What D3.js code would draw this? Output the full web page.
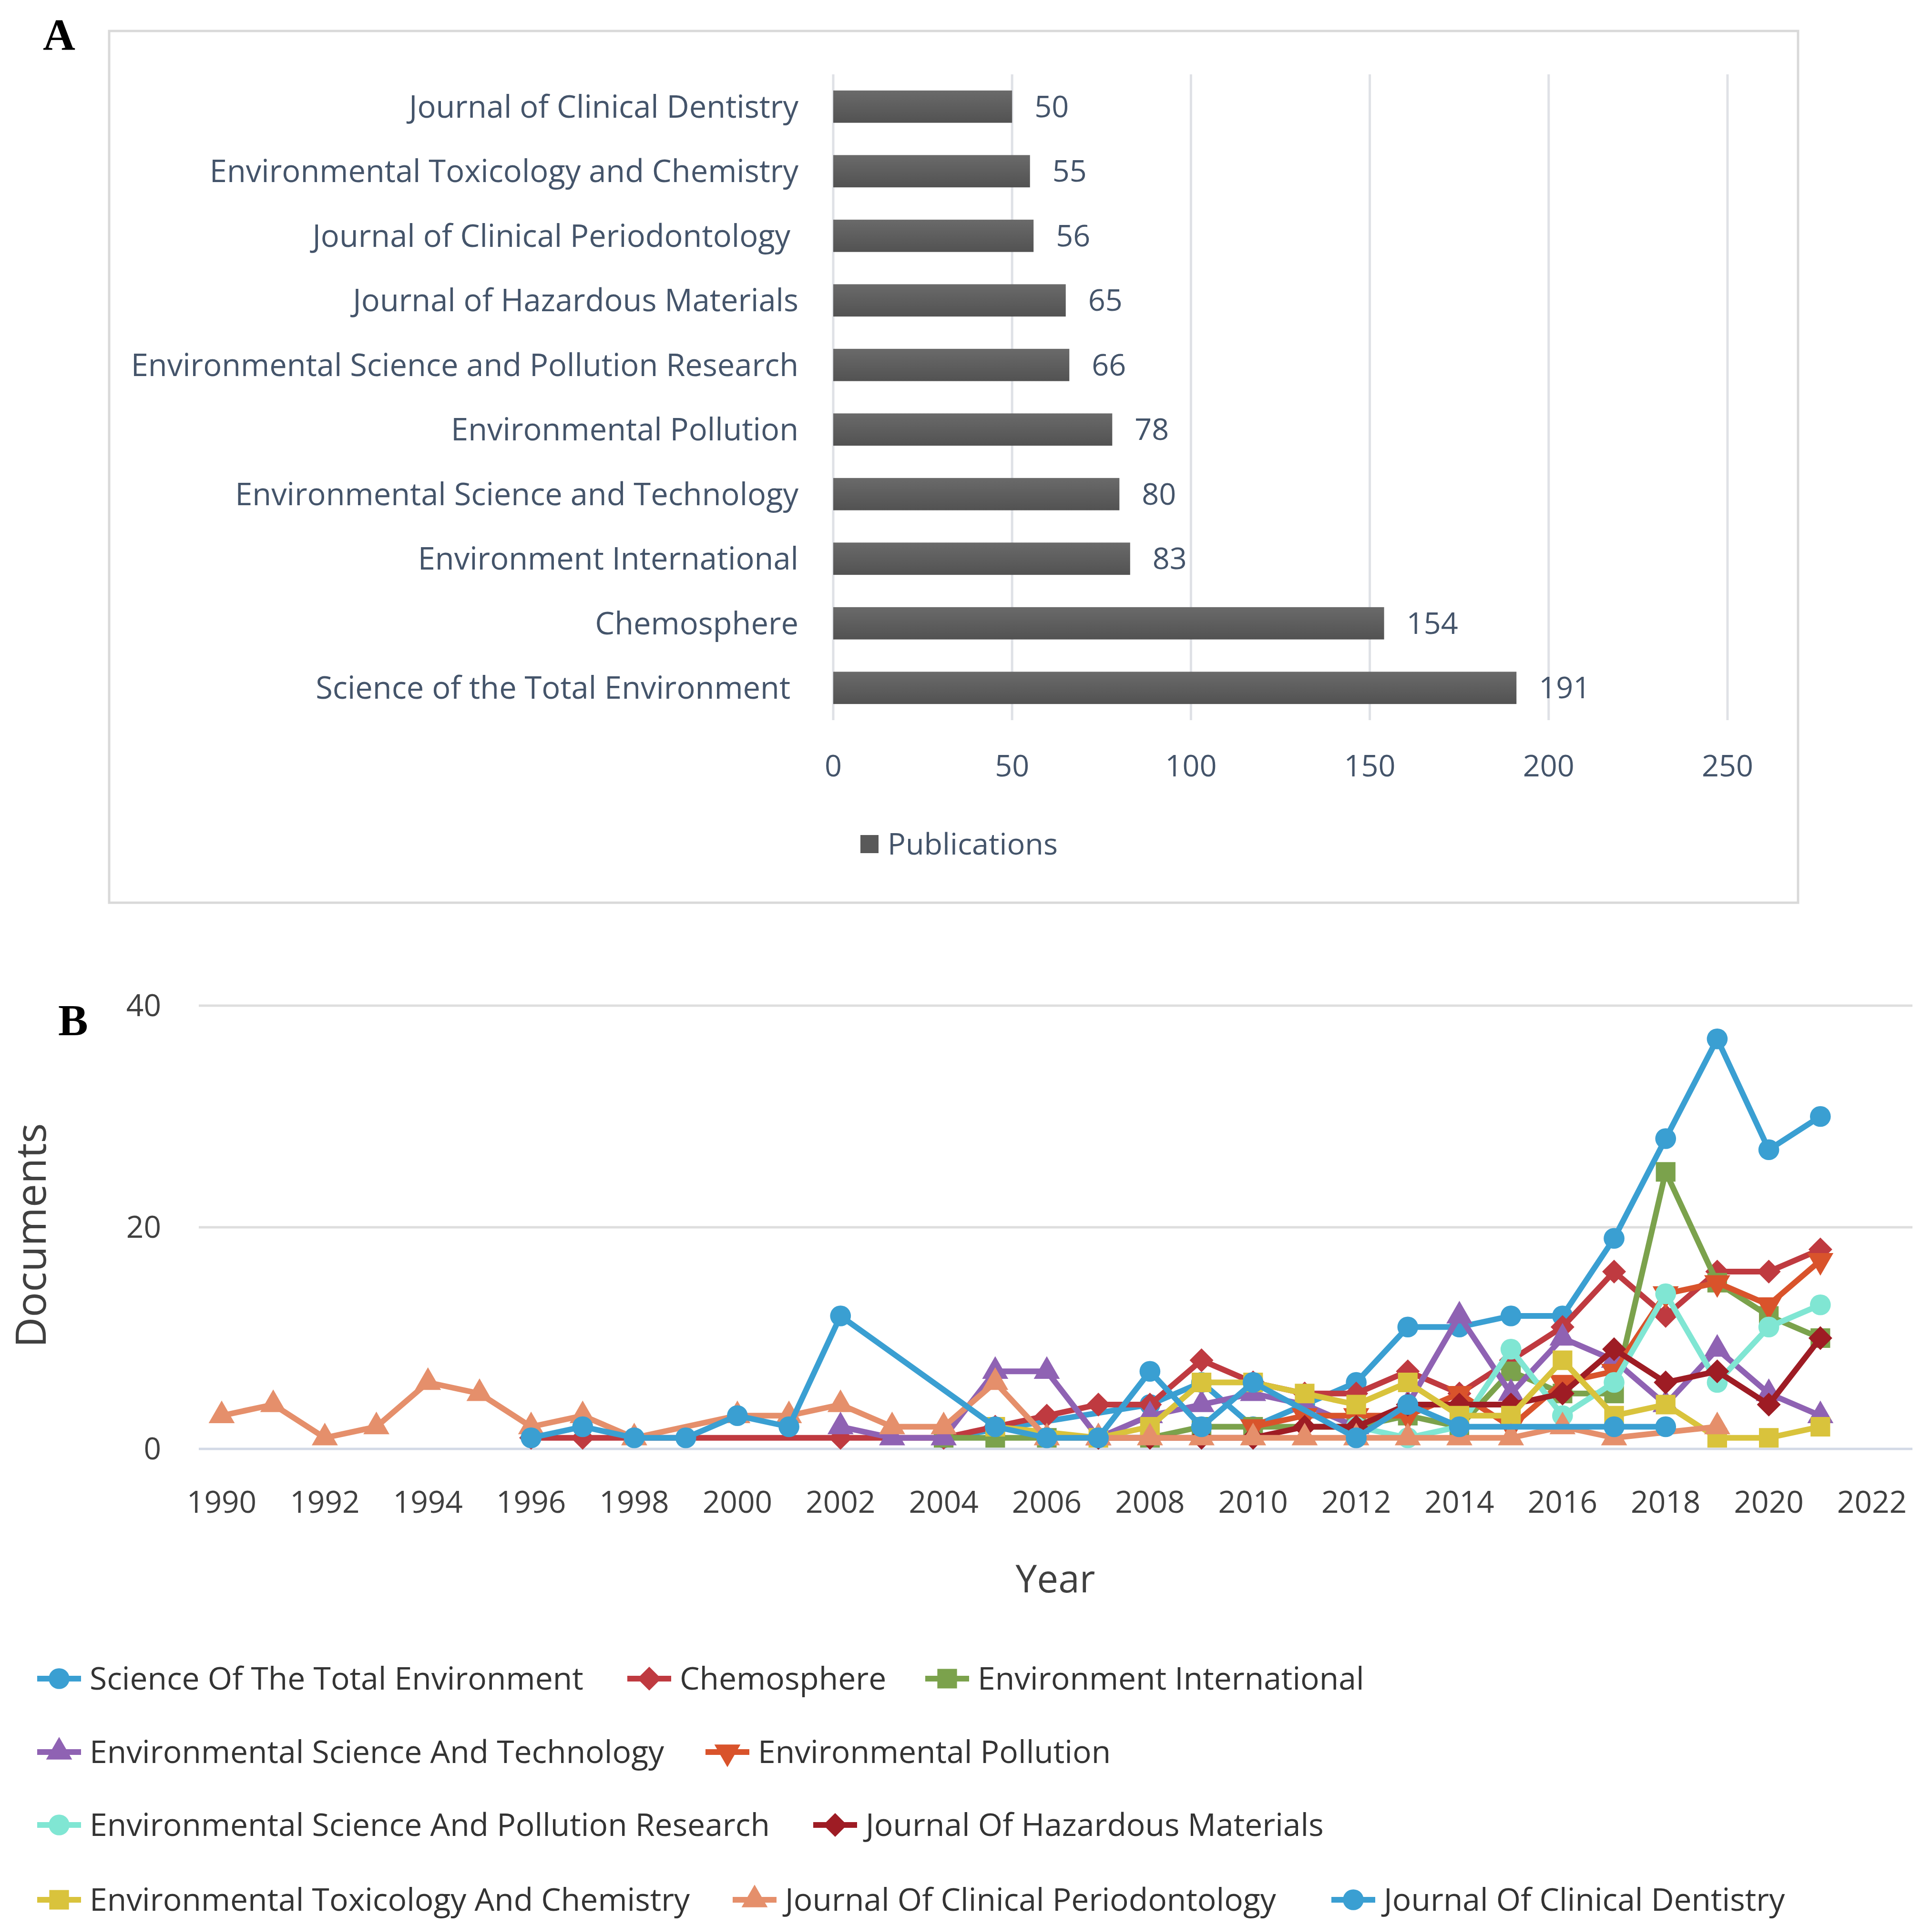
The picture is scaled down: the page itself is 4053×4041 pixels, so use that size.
<!DOCTYPE html>
<html>
<head>
<meta charset="utf-8">
<script src="https://cdn.jsdelivr.net/npm/d3@7"></script>
<style>
body { margin: 0; background: #fff; }
text { font-family: "Open Sans", sans-serif; }
</style>
</head>
<body>
<div id="chart_container"></div>
<script>
// ---------- Panel A data ----------
var journals = ["Journal of Clinical Dentistry", "Environmental Toxicology and Chemistry",
    "Journal of Clinical Periodontology ", "Journal of Hazardous Materials",
    "Environmental Science and Pollution Research", "Environmental Pollution",
    "Environmental Science and Technology", "Environment International",
    "Chemosphere", "Science of the Total Environment "];
var publications = [50, 55, 56, 65, 66, 78, 80, 83, 154, 191];
var pubTicks = [0, 50, 100, 150, 200, 250];

// ---------- Panel B data: [year, documents] ----------
var stoten = [[2004,1],[2008,4],[2009,6],[2010,2],[2011,4],[2012,6],[2013,11],[2014,11],[2015,12],[2016,12],[2017,19],[2018,28],[2019,37],[2020,27],[2021,30]];
var chemosphere = [[1996,1],[1997,1],[2002,1],[2004,1],[2005,2],[2006,3],[2007,4],[2008,4],[2009,8],[2010,6],[2011,5],[2012,5],[2013,7],[2014,5],[2015,8],[2016,11],[2017,16],[2018,12],[2019,16],[2020,16],[2021,18]];
var envInt = [[2004,1],[2005,1],[2006,1],[2008,1],[2009,2],[2010,2],[2012,2],[2013,3],[2014,2],[2015,7],[2016,5],[2017,5],[2018,25],[2019,15],[2020,12],[2021,10]];
var envSciTech = [[2002,2],[2003,1],[2004,1],[2005,7],[2006,7],[2007,1],[2008,3],[2009,4],[2010,5],[2011,4],[2012,2],[2013,4],[2014,12],[2015,5],[2016,10],[2017,8],[2018,4],[2019,9],[2020,5],[2021,3]];
var envPollution = [[2010,2],[2011,3],[2012,3],[2013,3],[2014,5],[2015,2],[2016,6],[2017,7],[2018,14],[2019,15],[2020,13],[2021,17]];
var espr = [[2012,2],[2013,1],[2014,2],[2015,9],[2016,3],[2017,6],[2018,14],[2019,6],[2020,11],[2021,13]];
var hazardous = [[2007,1],[2008,1],[2009,1],[2010,1],[2011,2],[2012,2],[2013,4],[2014,4],[2015,4],[2016,5],[2017,9],[2018,6],[2019,7],[2020,4],[2021,10]];
var envTox = [[2005,2],[2007,1],[2008,2],[2009,6],[2010,6],[2011,5],[2012,4],[2013,6],[2014,3],[2015,3],[2016,8],[2017,3],[2018,4],[2019,1],[2020,1],[2021,2]];
var periodontology = [[1990,3],[1991,4],[1992,1],[1993,2],[1994,6],[1995,5],[1996,2],[1997,3],[1998,1],[2000,3],[2001,3],[2002,4],[2003,2],[2004,2],[2005,6],[2006,1],[2007,1],[2008,1],[2009,1],[2010,1],[2011,1],[2012,1],[2013,1],[2014,1],[2015,1],[2016,2],[2017,1],[2019,2]];
var dentistry = [[1996,1],[1997,2],[1998,1],[1999,1],[2000,3],[2001,2],[2002,12],[2005,2],[2006,1],[2007,1],[2008,7],[2009,2],[2010,6],[2012,1],[2013,4],[2014,2],[2017,2],[2018,2]];

var seriesNames = ["Science Of The Total Environment", "Chemosphere", "Environment International",
    "Environmental Science And Technology", "Environmental Pollution",
    "Environmental Science And Pollution Research", "Journal Of Hazardous Materials",
    "Environmental Toxicology And Chemistry", "Journal Of Clinical Periodontology",
    "Journal Of Clinical Dentistry"];
var seriesData = [stoten, chemosphere, envInt, envSciTech, envPollution, espr, hazardous, envTox, periodontology, dentistry];
var docTicks = [0, 20, 40];
var yearTicks = [1990, 1992, 1994, 1996, 1998, 2000, 2002, 2004, 2006, 2008, 2010, 2012, 2014, 2016, 2018, 2020, 2022];

// series styles
var seriesColors = ["#3a9fd2", "#bf3a40", "#7ba24c", "#8f62b3", "#d9532b", "#80e6d3", "#9e1c24", "#d9c33c", "#e58f6b", "#3a9fd2"];
var seriesMarkers = ["circle", "diamond", "square", "triangle", "down", "circle", "diamond", "square", "triangle", "circle"];

var width = 4053
var height = 4041

var svg = d3.select("#chart_container")
    .append("svg")
    .attr("width", width)
    .attr("height", height)
    .style("display", "block")
    .style("background-color", "white")

// ================= Panel A =================
svg.append("text")
    .attr("x", 90)
    .attr("y", 104)
    .style("font-family", "'Liberation Serif', serif")
    .style("font-weight", "bold")
    .style("font-size", "94px")
    .text("A")

svg.append("rect")
    .attr("x", 229)
    .attr("y", 65)
    .attr("width", 3543)
    .attr("height", 1829)
    .attr("fill", "none")
    .attr("stroke", "#d9d9d9")
    .attr("stroke-width", 5)

var x_a = d3.scaleLinear()
    .domain([0, 250])
    .range([1748, 3624]);

var y_a = d3.scaleBand()
    .domain(journals)
    .range([156, 1511])
    .paddingInner(0.5)
    .paddingOuter(0.25);

var textA = "#44546a";

// grid lines
svg.append("g")
    .selectAll("line")
    .data(pubTicks)
    .enter()
    .append("line")
    .attr("x1", function(d) { return x_a(d) })
    .attr("x2", function(d) { return x_a(d) })
    .attr("y1", 156)
    .attr("y2", 1511)
    .attr("stroke", "#dfe1e6")
    .attr("stroke-width", 5)

var grad = svg.append("defs").append("linearGradient")
    .attr("id", "barGrad")
    .attr("x1", 0).attr("y1", 0).attr("x2", 0).attr("y2", 1)
grad.append("stop").attr("offset", "0%").attr("stop-color", "#6a6a6a")
grad.append("stop").attr("offset", "100%").attr("stop-color", "#525252")

// bars
svg.append("g")
    .selectAll("rect")
    .data(journals)
    .enter()
    .append("rect")
    .attr("x", x_a(0))
    .attr("y", function(d) { return y_a(d) })
    .attr("width", function(d, i) { return x_a(publications[i]) - x_a(0) })
    .attr("height", y_a.bandwidth())
    .attr("fill", "url(#barGrad)")

// value labels
svg.append("g")
    .selectAll("text")
    .data(journals)
    .enter()
    .append("text")
    .attr("x", function(d, i) { return x_a(publications[i]) + 47 })
    .attr("y", function(d) { return y_a(d) + y_a.bandwidth() / 2 })
    .attr("dy", "0.35em")
    .style("font-size", "63px")
    .style("fill", textA)
    .text(function(d, i) { return publications[i] })

// category labels
svg.append("g")
    .selectAll("text")
    .data(journals)
    .enter()
    .append("text")
    .attr("x", 1675)
    .attr("y", function(d) { return y_a(d) + y_a.bandwidth() / 2 })
    .attr("dy", "0.35em")
    .attr("text-anchor", "end")
    .style("white-space", "pre")
    .style("font-size", "65px")
    .style("fill", textA)
    .text(function(d) { return d })

// x tick labels
svg.append("g")
    .selectAll("text")
    .data(pubTicks)
    .enter()
    .append("text")
    .attr("x", function(d) { return x_a(d) })
    .attr("y", 1607)
    .attr("dy", "0.35em")
    .attr("text-anchor", "middle")
    .style("font-size", "63px")
    .style("fill", textA)
    .text(function(d) { return d })

// legend
svg.append("rect")
    .attr("x", 1805)
    .attr("y", 1752)
    .attr("width", 38)
    .attr("height", 38)
    .attr("fill", "#595959")
svg.append("text")
    .attr("x", 1862)
    .attr("y", 1771)
    .attr("dy", "0.35em")
    .style("font-size", "63px")
    .style("fill", textA)
    .text("Publications")

// ================= Panel B =================
svg.append("text")
    .attr("x", 122)
    .attr("y", 2172)
    .style("font-family", "'Liberation Serif', serif")
    .style("font-weight", "bold")
    .style("font-size", "94px")
    .text("B")

var x_b = d3.scaleLinear()
    .domain([1990, 2022])
    .range([465, 3927]);

var y_b = d3.scaleLinear()
    .domain([0, 40])
    .range([3040, 2110]);

var textB = "#404040";

// gridlines
svg.append("g")
    .selectAll("line")
    .data(docTicks)
    .enter()
    .append("line")
    .attr("x1", 417)
    .attr("x2", 4012)
    .attr("y1", function(d) { return y_b(d) })
    .attr("y2", function(d) { return y_b(d) })
    .attr("stroke", function(d) { return d === 0 ? "#d3d9e6" : "#dedede" })
    .attr("stroke-width", 5)

// y tick labels
svg.append("g")
    .selectAll("text")
    .data(docTicks)
    .enter()
    .append("text")
    .attr("x", 338)
    .attr("y", function(d) { return y_b(d) })
    .attr("dy", "0.35em")
    .attr("text-anchor", "end")
    .style("font-size", "64px")
    .style("fill", textB)
    .text(function(d) { return d })

// x tick labels
svg.append("g")
    .selectAll("text")
    .data(yearTicks)
    .enter()
    .append("text")
    .attr("x", function(d) { return x_b(d) })
    .attr("y", 3152)
    .attr("dy", "0.35em")
    .attr("text-anchor", "middle")
    .style("font-size", "64px")
    .style("fill", textB)
    .text(function(d) { return d })

// axis titles
svg.append("text")
    .attr("x", 2214)
    .attr("y", 3313)
    .attr("dy", "0.35em")
    .attr("text-anchor", "middle")
    .style("font-size", "80px")
    .style("fill", textB)
    .text("Year")

svg.append("text")
    .attr("transform", "translate(65,2592) rotate(-90)")
    .attr("dy", "0.35em")
    .attr("text-anchor", "middle")
    .style("font-size", "88px")
    .style("fill", textB)
    .text("Documents")

// marker shapes
function markerPath(type) {
    if (type === "circle") return d3.symbol(d3.symbolCircle, 1500)();
    if (type === "square") return d3.symbol(d3.symbolSquare, 1700)();
    if (type === "diamond") return d3.symbol(d3.symbolSquare, 1250)();
    return d3.symbol(d3.symbolTriangle, 1300)();
}
function markerRotate(type) {
    if (type === "diamond") return 45;
    if (type === "down") return 180;
    return 0;
}

var line = d3.line()
    .x(function(d) { return x_b(d[0]) })
    .y(function(d) { return y_b(d[1]) });

var plot = svg.append("g").attr("class", "plot")

seriesData.forEach(function(data, i) {
    var g = plot.append("g")
    g.append("path")
        .datum(data)
        .attr("d", line)
        .attr("fill", "none")
        .attr("stroke", seriesColors[i])
        .attr("stroke-width", 12)
        .attr("stroke-linejoin", "round")
    g.selectAll(".mk")
        .data(data)
        .enter()
        .append("path")
        .attr("d", markerPath(seriesMarkers[i]))
        .attr("transform", function(d) {
            return "translate(" + x_b(d[0]) + "," + y_b(d[1]) + ") rotate(" + markerRotate(seriesMarkers[i]) + ")"
        })
        .attr("fill", seriesColors[i])
});

// legend
var legendPos = [[78, 3522], [1316, 3522], [1941, 3522],
    [78, 3676], [1480, 3676],
    [78, 3829], [1706, 3829],
    [78, 3986], [1537, 3986], [2793, 3986]];

var legend = svg.append("g")
    .selectAll("g")
    .data(seriesNames)
    .enter()
    .append("g")
    .attr("transform", function(d, i) { return "translate(" + legendPos[i][0] + "," + legendPos[i][1] + ")" })

legend.append("line")
    .attr("x1", 0)
    .attr("x2", 92)
    .attr("stroke", function(d, i) { return seriesColors[i] })
    .attr("stroke-width", 12)

legend.append("path")
    .attr("d", function(d, i) { return markerPath(seriesMarkers[i]) })
    .attr("transform", function(d, i) { return "translate(46,0) rotate(" + markerRotate(seriesMarkers[i]) + ")" })
    .attr("fill", function(d, i) { return seriesColors[i] })

legend.append("text")
    .attr("x", 110)
    .attr("dy", "0.35em")
    .style("font-size", "66px")
    .style("fill", "#333333")
    .text(function(d) { return d })
</script>
</body>
</html>
